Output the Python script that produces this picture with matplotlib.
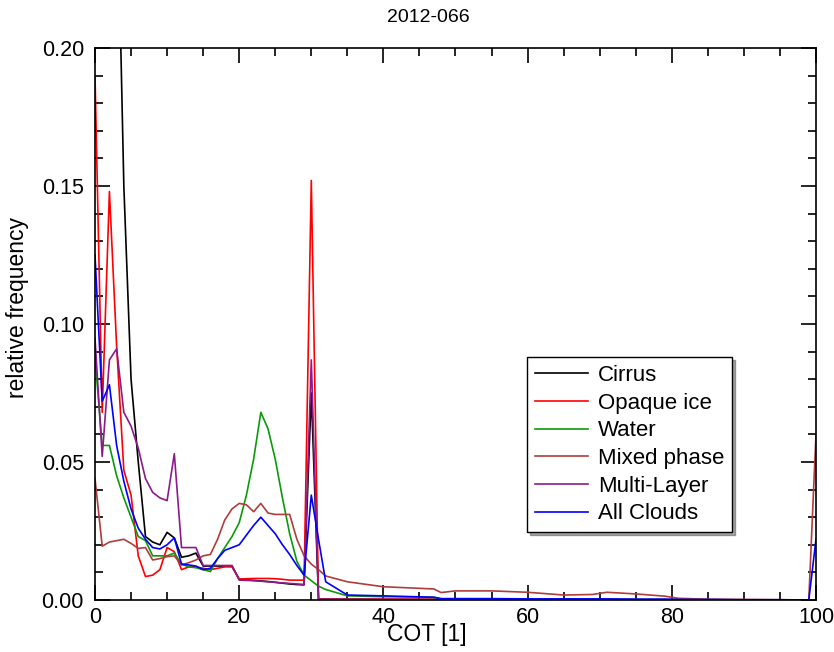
import matplotlib
matplotlib.use('Agg')
import matplotlib.pyplot as plt
from matplotlib.ticker import MultipleLocator, FormatStrFormatter

plt.rcParams['font.family'] = ['Liberation Sans', 'DejaVu Sans']

# COT bins
cot = [0, 1, 2, 3, 4, 5, 6, 7, 8, 9, 10, 11, 12, 13, 14, 15, 16, 17, 18, 19,
       20, 21, 22, 23, 24, 25, 26, 27, 28, 29, 30, 31, 32, 35, 40, 47, 48,
       50, 55, 60, 65, 69, 71, 75, 79, 81, 85, 90, 95, 99, 100]

cirrus = [0.40, 0.38, 0.33, 0.27, 0.150, 0.080, 0.050, 0.023, 0.021, 0.020,
          0.0245, 0.0225, 0.0155, 0.016, 0.017, 0.0123, 0.0123, 0.0123, 0.0123, 0.0123,
          0.0075, 0.0073, 0.0071, 0.0069, 0.0067, 0.0064, 0.0061, 0.0058, 0.0056, 0.0055,
          0.075, 0.0004, 0.0003, 0.0003, 0.0002, 0.0002, 0.0001,
          0.0001, 0.0001, 0.0001, 0.0001, 0.0001, 0.0001, 0.0001, 0.0001, 0.0001, 0.0, 0.0, 0.0, 0.0, 0.0]

opaque_ice = [0.190, 0.068, 0.148, 0.092, 0.047, 0.038, 0.016, 0.0085, 0.009, 0.011,
              0.019, 0.0175, 0.011, 0.012, 0.012, 0.0115, 0.011, 0.0115, 0.012, 0.012,
              0.0076, 0.0077, 0.0078, 0.0078, 0.0078, 0.0077, 0.0075, 0.0072, 0.0072, 0.0072,
              0.152, 0.0004, 0.0003, 0.0003, 0.0003, 0.0002, 0.0002,
              0.0002, 0.0002, 0.0002, 0.0001, 0.0001, 0.0001, 0.0001, 0.0001, 0.0001, 0.0, 0.0, 0.0, 0.0, 0.0]

water = [0.088, 0.056, 0.056, 0.045, 0.037, 0.030, 0.023, 0.0215, 0.016, 0.016,
         0.016, 0.017, 0.013, 0.012, 0.0117, 0.011, 0.0103, 0.015, 0.019, 0.023,
         0.028, 0.038, 0.051, 0.068, 0.062, 0.051, 0.037, 0.024, 0.014, 0.009,
         0.007, 0.005, 0.0038, 0.0015, 0.0012, 0.0010, 0.0004,
         0.0004, 0.0003, 0.0003, 0.0002, 0.0002, 0.0002, 0.0002, 0.0001, 0.0001, 0.0001, 0.0, 0.0, 0.0, 0.0]

mixed_phase = [0.044, 0.0195, 0.021, 0.0215, 0.022, 0.0205, 0.0187, 0.019, 0.0145, 0.015,
               0.0157, 0.016, 0.0127, 0.0135, 0.0145, 0.016, 0.0165, 0.022, 0.029, 0.033,
               0.035, 0.0345, 0.032, 0.035, 0.0315, 0.031, 0.031, 0.031, 0.022, 0.016,
               0.013, 0.011, 0.0087, 0.0066, 0.0048, 0.0040, 0.0027,
               0.0033, 0.0033, 0.0028, 0.0018, 0.0020, 0.0028, 0.0022, 0.0014, 0.0006, 0.0003, 0.0002, 0.0001, 0.0, 0.060]

multi_layer = [0.095, 0.052, 0.087, 0.091, 0.068, 0.063, 0.055, 0.044, 0.039, 0.037,
               0.036, 0.053, 0.019, 0.019, 0.019, 0.0125, 0.0125, 0.0125, 0.0125, 0.0125,
               0.0072, 0.0071, 0.0070, 0.0068, 0.0066, 0.0064, 0.0062, 0.0060, 0.0058, 0.0056,
               0.087, 0.0003, 0.0003, 0.0003, 0.0002, 0.0002, 0.0001,
               0.0001, 0.0001, 0.0001, 0.0001, 0.0001, 0.0001, 0.0001, 0.0001, 0.0001, 0.0, 0.0, 0.0, 0.0, 0.0]

all_clouds = [0.125, 0.072, 0.078, 0.056, 0.043, 0.033, 0.026, 0.022, 0.019, 0.0185,
              0.020, 0.0225, 0.013, 0.0127, 0.0123, 0.011, 0.0115, 0.015, 0.018, 0.019,
              0.020, 0.0235, 0.027, 0.030, 0.027, 0.024, 0.020, 0.0165, 0.0125, 0.009,
              0.038, 0.022, 0.0066, 0.0018, 0.0015, 0.0010, 0.0005,
              0.0005, 0.0005, 0.0004, 0.0004, 0.0004, 0.0004, 0.0003, 0.0003, 0.0002, 0.0002, 0.0001, 0.0001, 0.0, 0.022]

series = [
    ('Cirrus', cirrus, '#000000'),
    ('Opaque ice', opaque_ice, '#ff0000'),
    ('Water', water, '#0a9a0a'),
    ('Mixed phase', mixed_phase, '#b03c3c'),
    ('Multi-Layer', multi_layer, '#8c1a8c'),
    ('All Clouds', all_clouds, '#0000ff'),
]

fig = plt.figure(figsize=(8.34, 6.52), dpi=100)
ax = fig.add_axes([95 / 834, 1 - 600 / 652, 721 / 834, 552 / 652])

for name, vals, col in series:
    ax.plot(cot, vals, color=col, lw=1.2, label=name)

ax.set_xlim(0, 100)
ax.set_ylim(0, 0.20)
ax.xaxis.set_major_locator(MultipleLocator(20))
ax.xaxis.set_minor_locator(MultipleLocator(5))
ax.yaxis.set_major_locator(MultipleLocator(0.05))
ax.yaxis.set_minor_locator(MultipleLocator(0.01))
ax.yaxis.set_major_formatter(FormatStrFormatter('%.2f'))
ax.tick_params(which='both', direction='in', top=True, right=True, labelsize=15.5, width=1.2)
ax.tick_params(which='major', length=11, pad=8)
ax.tick_params(which='minor', length=5.5)
ax.tick_params(axis='x', which='major', pad=5)
for sp in ax.spines.values():
    sp.set_linewidth(1.2)

ax.set_xlabel('COT [1]', fontsize=16.5, labelpad=0)
ax.xaxis.set_label_coords(0.46, -0.042, transform=ax.transAxes)
ax.xaxis.label.set_verticalalignment('top')
ax.set_ylabel('relative frequency', fontsize=16.5)
ax.yaxis.set_label_coords(-0.092, 0.53)
fig.text(428 / 834, 1 - 17 / 652, '2012-066', fontsize=14, ha='center', va='center')

leg = ax.legend(loc='lower left', bbox_to_anchor=(0.599, 0.123), fontsize=16,
                fancybox=False, shadow=True, framealpha=1, edgecolor='black',
                handlelength=2.4, handletextpad=0.45, labelspacing=0.3,
                borderaxespad=0, borderpad=0.35)
leg.get_frame().set_linewidth(1.0)

fig.savefig('out.png', dpi=100)
